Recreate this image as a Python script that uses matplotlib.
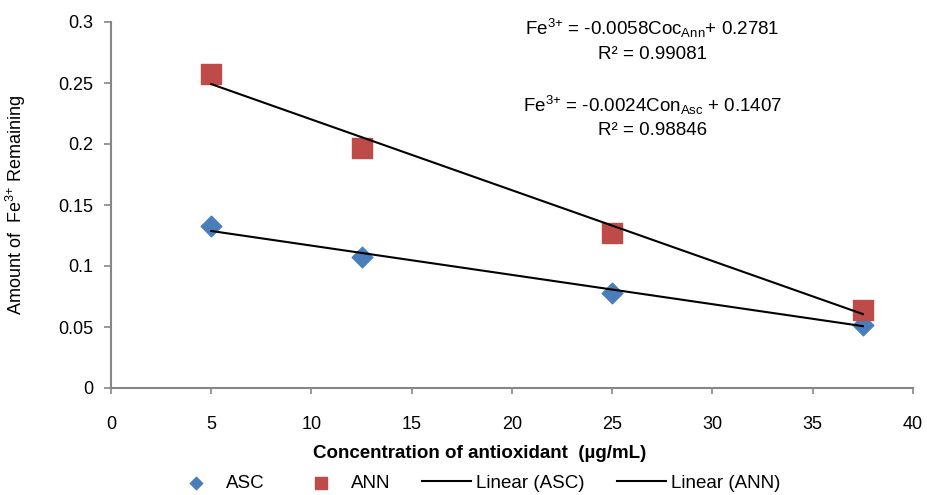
import numpy as np
import matplotlib
matplotlib.use("Agg")
import matplotlib.pyplot as plt

# concentracion de antioxidante (ug/mL)
conc = [5, 12.5, 25, 37.5]
# Fe3+ remanente
asc = [0.133, 0.107, 0.078, 0.052]
ann = [0.257, 0.197, 0.127, 0.064]

# coeficientes de las lineas de tendencia (pendiente, intercepto)
fit_asc = [-0.0024, 0.1407]
fit_ann = [-0.0058, 0.2781]

plt.rcParams['font.family'] = ['Liberation Sans', 'DejaVu Sans']
plt.rcParams['mathtext.fontset'] = 'custom'
plt.rcParams['mathtext.rm'] = 'Liberation Sans'
plt.rcParams['mathtext.it'] = 'Liberation Sans:italic'

fig = plt.figure(figsize=(9.28, 4.95), dpi=100)
ax = fig.add_axes([111 / 928, 1 - 388 / 495, 802 / 928, 366 / 495])

x = np.array([conc[0], conc[-1]])
p1 = ax.scatter(conc, asc, marker="D", s=110, color="#4a7ebb", label="ASC", zorder=3)
p2 = ax.scatter(conc, ann, marker="s", s=200, color="#be4b48", label="ANN", zorder=3)
l1, = ax.plot(x, np.polyval(fit_asc, x), color="black", lw=1.5, label="Linear (ASC)", zorder=4)
l2, = ax.plot(x, np.polyval(fit_ann, x), color="black", lw=1.5, label="Linear (ANN)", zorder=4)

ax.set_xlim(0, 40)
ax.set_ylim(0, 0.3)
ax.set_xticks(range(0, 41, 5))
ax.set_yticks([0, 0.05, 0.1, 0.15, 0.2, 0.25, 0.3])
ax.set_yticklabels(["0", "0.05", "0.1", "0.15", "0.2", "0.25", "0.3"])
for s in ["top", "right"]:
    ax.spines[s].set_visible(False)
for s in ["left", "bottom"]:
    ax.spines[s].set_color("#868686")
    ax.spines[s].set_linewidth(1.5)
ax.tick_params(colors="#868686", labelcolor="black", labelsize=13, length=5, width=1.2)
ax.tick_params(axis="x", pad=16, length=4)
ax.tick_params(axis="y", pad=8)

ax.set_xlabel("Concentration of antioxidant  (\u00b5g/mL)", fontsize=13.5, fontweight="bold")
ax.xaxis.set_label_coords((480 - 111) / 802, -(445 - 388) / 366)
ax.set_ylabel("Amount of  Fe$^{3{+}}$ Remaining", fontsize=13)
ax.yaxis.set_label_coords(-(111 - 28) / 802, 0.5)

ax.text(0.675, 0.951, "Fe$^{3{+}}$ = -0.0058Coc$_{\\mathrm{Ann}}$+ 0.2781\nR\u00b2 = 0.99081",
        transform=ax.transAxes, ha="center", va="center", fontsize=13.5, linespacing=1.45)
ax.text(0.675, 0.742, "Fe$^{3{+}}$ = -0.0024Con$_{\\mathrm{Asc}}$ + 0.1407\nR\u00b2 = 0.98846",
        transform=ax.transAxes, ha="center", va="center", fontsize=13.5, linespacing=1.45)

leg = fig.legend([p1, p2, l1, l2], ["ASC", "ANN", "Linear (ASC)", "Linear (ANN)"], loc="center",
                 bbox_to_anchor=(476 / 928, 1 - 483 / 495), ncol=4, frameon=False,
                 prop={"size": 13.5}, columnspacing=1.7, handlelength=2.6,
                 handletextpad=0.3, markerscale=0.6)

fig.savefig("out.png", dpi=100)
